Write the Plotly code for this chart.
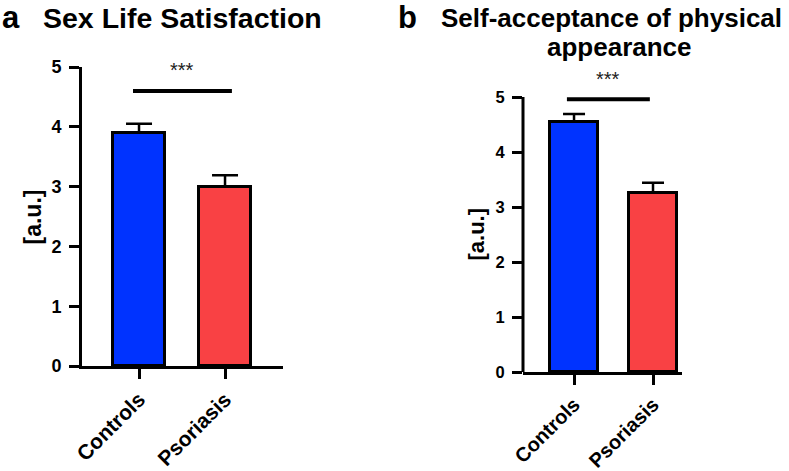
import plotly.graph_objects as go

W, H = 789, 471

groups = ["Controls", "Psoriasis"]
colors = ["#0033ff", "#f94144"]

# Panel a: Sex Life Satisfaction
a_means = [3.9, 3.0]
a_sem = [0.15, 0.19]
# Panel b: Self-acceptance of physical appearance
b_means = [4.55, 3.26]
b_sem = [0.14, 0.18]

y_ticks = [0, 1, 2, 3, 4, 5]
sig_label = "***"
# significance bar: [x0, x1, y] in data units, star y
a_sig = [-0.07, 1.08, 4.6]
a_star_y = 4.95
b_sig = [-0.09, 0.96, 4.96]
b_star_y = 5.32

FONT = "Liberation Sans"

def px_x(p):
    return p / W

def px_y(p):
    return 1 - p / H

fig = go.Figure()

fig.add_trace(go.Bar(
    x=groups, y=a_means, xaxis="x", yaxis="y", width=0.6,
    marker=dict(color=colors, line=dict(color="black", width=3)),
    error_y=dict(type="data", array=a_sem, arrayminus=[0, 0], symmetric=False,
                 color="black", thickness=2.5, width=13),
    showlegend=False,
))
fig.add_trace(go.Bar(
    x=groups, y=b_means, xaxis="x2", yaxis="y2", width=0.61,
    marker=dict(color=colors, line=dict(color="black", width=3)),
    error_y=dict(type="data", array=b_sem, arrayminus=[0, 0], symmetric=False,
                 color="black", thickness=2.5, width=11),
    showlegend=False,
))

axis_common = dict(
    showgrid=False, zeroline=False, ticks="outside", ticklen=10, tickwidth=2.5,
    tickcolor="black", linecolor="black", linewidth=3, automargin=False,
    fixedrange=True,
)

fig.update_layout(
    width=W, height=H,
    margin=dict(l=0, r=0, t=0, b=0),
    paper_bgcolor="white", plot_bgcolor="white",
    bargap=0,
    xaxis=dict(domain=[px_x(82), px_x(283)], range=[-0.663, 1.674], anchor="y",
               showline=True, tickangle=-45,
               tickfont=dict(family=FONT, size=21, color="black", weight="bold"),
               **axis_common),
    yaxis=dict(domain=[px_y(366), px_y(67)], range=[0, 5], anchor="x",
               showline=True, tickvals=y_ticks, ticklabelstandoff=4,
               tickfont=dict(family=FONT, size=18, color="black", weight="bold"),
               **axis_common),
    xaxis2=dict(domain=[px_x(523), px_x(682)], range=[-0.646, 1.367], anchor="y2",
                showline=True, tickangle=-45,
                tickfont=dict(family=FONT, size=20, color="black", weight="bold"),
                **axis_common),
    yaxis2=dict(domain=[px_y(372), px_y(75)], range=[0, 5.4], anchor="x2",
                showline=False, tickvals=y_ticks, ticklabelstandoff=4,
                tickfont=dict(family=FONT, size=16.5, color="black", weight="bold"),
                **axis_common),
)

shapes = [
    dict(type="line", xref="x", yref="y", x0=a_sig[0], x1=a_sig[1], y0=a_sig[2], y1=a_sig[2],
         line=dict(color="black", width=4)),
    dict(type="line", xref="x2", yref="y2", x0=b_sig[0], x1=b_sig[1], y0=b_sig[2], y1=b_sig[2],
         line=dict(color="black", width=4)),
    # y axis line of panel b (0 to 5)
    dict(type="line", xref="x2 domain", yref="y2", x0=0, x1=0, y0=0, y1=y_ticks[-1],
         line=dict(color="black", width=3)),
]
fig.update_layout(shapes=shapes)

ann = []
ann.append(dict(text=sig_label, xref="x", yref="y", x=(a_sig[0] + a_sig[1]) / 2, y=a_star_y,
                showarrow=False, font=dict(family=FONT, size=20, color="#222")))
ann.append(dict(text=sig_label, xref="x2", yref="y2", x=(b_sig[0] + b_sig[1]) / 2, y=b_star_y,
                showarrow=False, font=dict(family=FONT, size=20, color="#222")))
# y-axis titles
ann.append(dict(text="[a.u.]", xref="paper", yref="y", x=px_x(32), y=2.5,
                xanchor="center", yanchor="middle",
                textangle=-90, showarrow=False,
                font=dict(family=FONT, size=23, color="black", weight="bold")))
ann.append(dict(text="[a.u.]", xref="paper", yref="y2", x=px_x(476), y=2.5,
                xanchor="center", yanchor="middle",
                textangle=-90, showarrow=False,
                font=dict(family=FONT, size=22, color="black", weight="bold")))
# panel labels and titles
ann.append(dict(text="a", xref="paper", yref="paper", x=px_x(0), y=px_y(18),
                xanchor="left", yanchor="middle", showarrow=False,
                font=dict(family=FONT, size=31, color="black", weight="bold")))
ann.append(dict(text="Sex Life Satisfaction", xref="paper", yref="paper", x=px_x(41), y=px_y(18),
                xanchor="left", yanchor="middle", showarrow=False,
                font=dict(family=FONT, size=28.5, color="black", weight="bold")))
ann.append(dict(text="b", xref="paper", yref="paper", x=px_x(396), y=px_y(18),
                xanchor="left", yanchor="middle", showarrow=False,
                font=dict(family=FONT, size=31, color="black", weight="bold")))
ann.append(dict(text="Self-acceptance of physical", xref="paper", yref="paper", x=px_x(611.5), y=px_y(18),
                xanchor="center", yanchor="middle", showarrow=False,
                font=dict(family=FONT, size=26, color="black", weight="bold")))
ann.append(dict(text="appearance", xref="paper", yref="paper", x=px_x(619), y=px_y(47),
                xanchor="center", yanchor="middle", showarrow=False,
                font=dict(family=FONT, size=26, color="black", weight="bold")))
fig.update_layout(annotations=ann)

fig.write_html("out.html", config={"displayModeBar": False},
               post_script="document.body.style.margin='0';document.body.style.padding='0';")
